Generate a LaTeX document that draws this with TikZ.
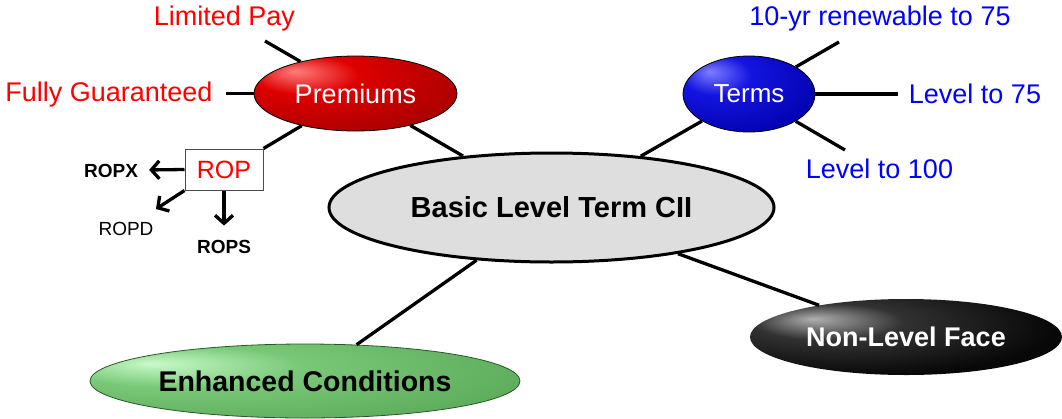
\documentclass[tikz,border=0pt]{standalone}
\usepackage{fontspec}
\setmainfont{Liberation Sans}
\usetikzlibrary{shapes.geometric,arrows.meta}

% colori delle sfumature
\definecolor{redHi}{RGB}{255,125,125}
\definecolor{redMid}{RGB}{222,0,0}
\definecolor{redLo}{RGB}{165,0,0}
\definecolor{redEdge}{RGB}{100,0,0}
\definecolor{bluHi}{RGB}{125,125,255}
\definecolor{bluMid}{RGB}{20,20,225}
\definecolor{bluLo}{RGB}{0,0,170}
\definecolor{bluEdge}{RGB}{0,0,100}
\definecolor{blkHi}{RGB}{175,175,175}
\definecolor{blkMid}{RGB}{50,50,50}
\definecolor{blkLo}{RGB}{8,8,8}
\definecolor{grnHi}{RGB}{200,250,200}
\definecolor{grnMid}{RGB}{120,200,120}
\definecolor{grnLo}{RGB}{88,168,88}
\definecolor{grnEdge}{RGB}{55,125,55}
\definecolor{hubGray}{RGB}{222,222,222}

\pgfdeclareradialshading{redball}{\pgfpoint{-15bp}{15bp}}{color(0bp)=(redHi); color(13bp)=(redMid); color(38bp)=(redLo); color(72bp)=(redEdge)}
\pgfdeclareradialshading{bluball}{\pgfpoint{-15bp}{15bp}}{color(0bp)=(bluHi); color(13bp)=(bluMid); color(38bp)=(bluLo); color(72bp)=(bluEdge)}
\pgfdeclareradialshading{blkball}{\pgfpoint{-15bp}{12bp}}{color(0bp)=(blkHi); color(12bp)=(blkMid); color(32bp)=(blkLo); color(72bp)=(black)}
\pgfdeclareradialshading{grnball}{\pgfpoint{-18bp}{12bp}}{color(0bp)=(grnHi); color(14bp)=(grnMid); color(40bp)=(grnLo); color(72bp)=(grnEdge)}

\begin{document}
\begin{tikzpicture}[x=1pt, y=-1pt,
    bubble/.style={ellipse, inner sep=0pt, shade},
    hub/.style={ellipse, inner sep=0pt, draw, line width=3pt, fill=hubGray,
      font=\fontsize{29}{34}\selectfont\bfseries},
    leaf/.style={inner sep=0pt, anchor=base, font=\fontsize{27}{32}\selectfont},
    ropbox/.style={draw=gray!60!black, line width=1pt, inner sep=0pt, text=red,
      minimum width=78pt, minimum height=41pt, font=\fontsize{25}{30}\selectfont},
    ropleaf/.style={inner sep=0pt, anchor=base, font=\fontsize{19}{22}\selectfont},
    link/.style={line width=3.3pt},
    arr/.style={line width=3.3pt, -{Straight Barb[length=8pt,width=18pt]}}]

  \useasboundingbox (0,0) rectangle (1062,418);

  % --- nodo centrale ---
  \node[hub, minimum width=445pt, minimum height=109pt] (cent) at (551.5,207.5)
    {Basic Level Term CII};

  % --- Premiums (rosso) ---
  \node[bubble, shading=redball, draw=black, line width=0.8pt, text=white,
    minimum width=203pt, minimum height=75pt, font=\fontsize{27}{32}\selectfont]
    (prem) at (355.5,93.5) {Premiums};

  % --- Terms (blu) ---
  \node[bubble, shading=bluball, draw=black, line width=0.8pt, text=white,
    minimum width=132pt, minimum height=76pt, font=\fontsize{26}{31}\selectfont]
    (terms) at (749,94) {Terms};

  % --- Non-Level Face (nero) ---
  \node[bubble, shading=blkball, text=white,
    minimum width=312pt, minimum height=76pt, font=\fontsize{27}{32}\selectfont\bfseries]
    (nlf) at (906,337) {Non-Level Face};

  % --- Enhanced Conditions (verde) ---
  \node[bubble, shading=grnball, draw=grnEdge!70!black, line width=0.8pt,
    minimum width=430pt, minimum height=74pt,
    font=\fontsize{28.5}{33}\selectfont\bfseries]
    (enh) at (305,381) {Enhanced Conditions};

  % --- rami dal centro ---
  \draw[link] (cent) -- (prem);
  \draw[link] (cent) -- (terms);
  \draw[link] (cent) -- (enh);
  \draw[link] (cent) -- (nlf);

  % --- foglie di Premiums ---
  \node[leaf, text=red] (limpay) at (224.5,25) {Limited Pay};
  \node[leaf, text=red] (fullg) at (109,101) {Fully Guaranteed};
  \coordinate (limpayEnd) at (265,41);
  \coordinate (fullgEnd) at (226,93.5);
  \draw[link] (prem) -- (limpayEnd);
  \draw[link] (prem) -- (fullgEnd);

  % --- ROP e le sue frecce ---
  \node[ropbox] (rop) at (224,169.5) {ROP};
  \draw[link] (prem) -- (rop.north east);
  \node[ropleaf, font=\fontsize{19}{22}\selectfont\bfseries] (ropx) at (111,177) {ROPX};
  \node[ropleaf] (ropd) at (126,235) {ROPD};
  \node[ropleaf, font=\fontsize{19}{22}\selectfont\bfseries] (rops) at (224,253) {ROPS};
  \draw[arr, shorten >=11pt] (rop.west) -- (ropx);
  \draw[arr, shorten >=23pt] (rop.south west) -- (ropd);
  \draw[arr, shorten >=14pt] (rop.south) -- (rops);

  % --- foglie di Terms ---
  \node[leaf, text=blue] (ten) at (880,25) {10-yr renewable to 75};
  \node[leaf, text=blue] (lev75) at (975,103) {Level to 75};
  \node[leaf, text=blue] (lev100) at (879.5,178) {Level to 100};
  \coordinate (tenEnd) at (839,42);
  \coordinate (lev75End) at (898,94);
  \coordinate (lev100End) at (845,150);
  \draw[link] (terms) -- (tenEnd);
  \draw[link] (terms) -- (lev75End);
  \draw[link] (terms) -- (lev100End);

\end{tikzpicture}
\end{document}
